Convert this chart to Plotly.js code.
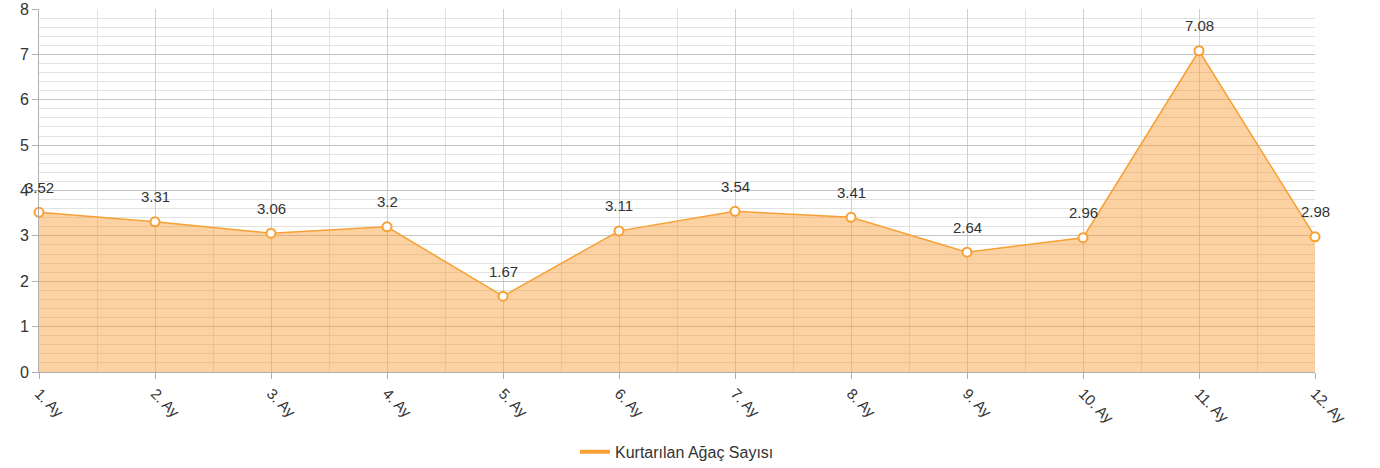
<!DOCTYPE html>
<html>
<head>
<meta charset="utf-8">
<script src="https://cdn.plot.ly/plotly-3.0.1.min.js"></script>
<style>html,body{margin:0;padding:0;background:#fff;}#chart{width:1380px;height:468px;}</style>
</head>
<body>
<div id="chart"></div>
<script>
const categories = ["1. Ay","2. Ay","3. Ay","4. Ay","5. Ay","6. Ay","7. Ay","8. Ay","9. Ay","10. Ay","11. Ay","12. Ay"];
const values = [3.52, 3.31, 3.06, 3.2, 1.67, 3.11, 3.54, 3.41, 2.64, 2.96, 7.08, 2.98];
const seriesName = "Kurtarılan Ağaç Sayısı";
const yTicks = [0,1,2,3,4,5,6,7,8];

const idx = categories.map((c, i) => i);
const orange = "#f7a035";
const font = "Liberation Sans, Arial, sans-serif";

const traces = [
  {x: idx, y: values, mode: "lines", fill: "tozeroy", fillcolor: "rgba(248,155,50,0.45)",
   line: {color: orange, width: 1.5}, showlegend: false, hoverinfo: "skip", cliponaxis: false},
  {x: idx, y: values, mode: "markers", showlegend: false, cliponaxis: false,
   marker: {symbol: "circle", size: 9, color: "#fff", line: {color: orange, width: 2}}},
  {x: [null], y: [null], mode: "lines", name: seriesName, line: {color: orange, width: 4}}
];

const annotations = values.map((v, i) => ({
  x: i, y: v, text: String(v), showarrow: false, yshift: 25,
  font: {family: font, size: 15, color: "#333"}
}));

const layout = {
  width: 1380, height: 468,
  margin: {l: 39, r: 65, t: 9, b: 96, autoexpand: false},
  paper_bgcolor: "#fff", plot_bgcolor: "#fff",
  showlegend: true,
  legend: {orientation: "h", x: 0.5, xanchor: "center", y: -0.22, yanchor: "middle",
           font: {family: font, size: 16, color: "#333"}},
  xaxis: {type: "linear", range: [0, 11], tickmode: "array", tickvals: idx, ticktext: categories,
          tickangle: 45, automargin: false, showgrid: true, gridcolor: "#cfcfcf", zeroline: false,
          showline: true, linecolor: "#b0b0b0", ticks: "outside", ticklen: 6, tickcolor: "#b0b0b0",
          minor: {dtick: 0.5, tick0: 0, showgrid: true, gridcolor: "#e2e2e2", ticks: ""},
          tickfont: {family: font, size: 15, color: "#333"}, fixedrange: true},
  yaxis: {range: [0, 8], tickmode: "array", tickvals: yTicks, automargin: false, showgrid: true, gridcolor: "#c4c4c4",
          zeroline: false, showline: true, linecolor: "#b0b0b0", ticks: "outside", ticklen: 6,
          tickcolor: "#b0b0b0",
          minor: {dtick: 0.2, tick0: 0, showgrid: true, gridcolor: "#e2e2e2", ticks: ""},
          tickfont: {family: font, size: 16, color: "#333"}, fixedrange: true},
  annotations: annotations
};

Plotly.newPlot("chart", traces, layout, {displayModeBar: false, staticPlot: true});
</script>
</body>
</html>
